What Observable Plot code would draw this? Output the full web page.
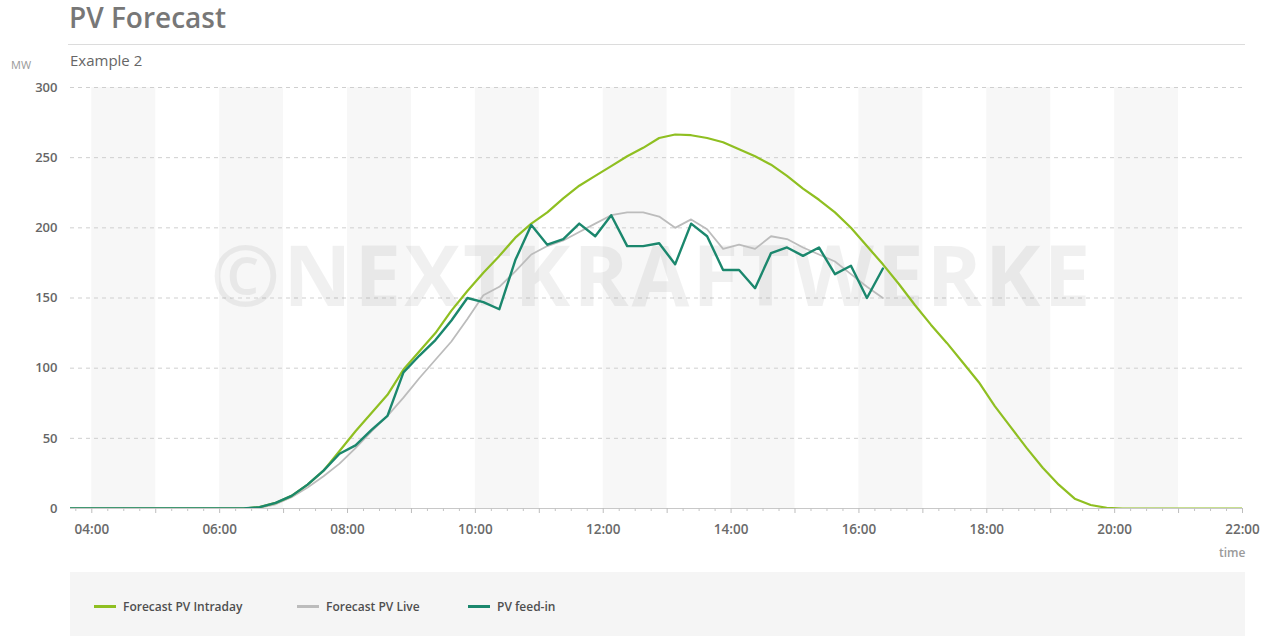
<!DOCTYPE html>
<html>
<head>
<meta charset="utf-8">
<script src="https://cdn.jsdelivr.net/npm/d3@7"></script>
<script src="https://cdn.jsdelivr.net/npm/@observablehq/plot@0.6"></script>
<style>
  html, body { margin: 0; padding: 0; background: #fff; }
  body { width: 1268px; height: 636px; overflow: hidden; position: relative; font-family: "Open Sans", sans-serif; }
  #header { position: relative; height: 70px; }
  #title { position: absolute; left: 69px; top: -1px; font-size: 28px; font-weight: 600; color: #777; line-height: 36px; white-space: nowrap; }
  #rule { position: absolute; left: 68px; top: 44px; width: 1177px; height: 1px; background: #dcdcdc; }
  #sub { position: absolute; left: 70px; top: 50px; font-size: 15px; color: #666; line-height: 20px; white-space: nowrap; }
  #unit { position: absolute; left: 11px; top: 57px; font-size: 11px; color: #999; line-height: 15px; }
  #chart { position: absolute; left: 0; top: 70px; }
  #legend { position: absolute; left: 70px; top: 572px; width: 1175px; height: 64px; background: #f5f5f5; }
  .item { position: absolute; top: 27px; font-size: 12px; font-weight: 600; color: #4f4f4f; line-height: 16px; white-space: nowrap; }
  .sw { display: inline-block; width: 22px; height: 3px; vertical-align: middle; margin-right: 7px; position: relative; top: -1px; }
</style>
</head>
<body>
<div id="header">
  <div id="title">PV Forecast</div>
  <div id="rule"></div>
  <div id="unit">MW</div>
  <div id="sub">Example 2</div>
</div>
<div id="chart"></div>
<div id="legend"></div>
<script>
// ---- data (15-minute samples, first sample at 03:37:30) ----
const firstSample = "03:37:30";
const stepMinutes = 15;

const intraday = [0,0,0,0,0,0,0,0,0,0,0,0,
  1,4,9,17,27,41,55,68,81,99,112,125,141,155,168,180,193,203,211,221,230,237,
  244,251,257,264,266.5,266,264,261,256,251,245,237,228,220,211,200,187,174,
  160,145,131,118,104,90,73,58,43,29,17,7,2.5,0.5,
  0,0,0,0,0,0,0,0,0];

const live = [0,0,0,0,0,0,0,0,0,0,0,0,
  0.5,3,8,15,23,32,43,55,66,79,93,106,119,135,152,158,169,181,187,191,197,203,
  209,211,211,208,200,206,199,185,188,185,194,192,186,181,176,167,158,150];

const feedIn = [0,0,0,0,0,0,0,0,0,0,0,0,
  1,4,9,17,27,39,45,56,66,97,109,120,134,150,147,142,177,202,188,192,203,194,
  209,187,187,189,174,203,194,170,170,157,182,186,180,186,167,173,150,171];

const seriesNames = ["Forecast PV Intraday", "Forecast PV Live", "PV feed-in"];
const seriesColors = ["#8fbf21", "#bcbcbc", "#1b876d"];
const xTickLabels = ["04:00","06:00","08:00","10:00","12:00","14:00","16:00","18:00","20:00","22:00"];
const yTicks = [0, 50, 100, 150, 200, 250, 300];
const xDomain = ["03:40", "22:00"];
const watermark = "©NEXTKRAFTWERKE";

// ---- helpers ----
const at = s => { const [h, m, sec] = s.split(":").map(Number); return new Date(2020, 0, 1, h, m, sec || 0); };
const t0 = at(firstSample);
const timeOf = i => new Date(t0.getTime() + i * stepMinutes * 60000);
const rowsOf = (vals, name) => vals.map((v, i) => ({t: timeOf(i), v, s: name}));

const rowsIntraday = rowsOf(intraday, seriesNames[0]);
const rowsLive = rowsOf(live, seriesNames[1]);
const rowsFeed = rowsOf(feedIn, seriesNames[2]);

const labelTicks = xTickLabels.map(at);
const hourTicks = d3.timeHour.range(at("04:00"), new Date(at("22:00").getTime() + 1));
const minorTicks = d3.timeMinute.every(15).range(at("03:45"), new Date(at("22:00").getTime() + 1))
  .filter(d => d.getMinutes() !== 0);
const bands = labelTicks.slice(0, -1).map(d => ({x1: d, x2: d3.timeHour.offset(d, 1)}));
const fmt = d3.timeFormat("%H:%M");

const chart = Plot.plot({
  width: 1268,
  height: 500,
  marginTop: 17,
  marginBottom: 62,
  marginLeft: 70,
  marginRight: 26,
  x: {type: "time", domain: xDomain.map(at), label: null},
  y: {domain: [yTicks[0], yTicks[yTicks.length - 1]], label: null},
  style: {fontFamily: "'Open Sans', sans-serif", background: "transparent", color: "#666", overflow: "visible"},
  marks: [
    Plot.rect(bands, {x1: "x1", x2: "x2", y1: yTicks[0], y2: yTicks[yTicks.length - 1], fill: "#f7f7f7"}),
    Plot.gridY(yTicks.slice(1), {stroke: "#cfcfcf", strokeOpacity: 1, strokeDasharray: "4,4"}),
    Plot.text([watermark], {text: d => d, frameAnchor: "middle", dx: -6, dy: -19, fontSize: 84, fontWeight: 700, fill: "#000", fillOpacity: 0.06, lineAnchor: "middle"}),
    Plot.ruleY([0], {stroke: "#c8c8c8"}),
    Plot.axisX({ticks: minorTicks, tickSize: 3, tickFormat: () => "", stroke: "#c4c4c4", label: null}),
    Plot.axisX({ticks: hourTicks, tickSize: 5, tickFormat: () => "", stroke: "#bdbdbd", label: null}),
    Plot.axisX({ticks: labelTicks, tickSize: 0, tickPadding: 16, tickFormat: fmt, fontSize: 13.5, fontWeight: 600, fill: "#6a6a6a", label: null}),
    Plot.axisY({ticks: yTicks, tickSize: 0, tickPadding: 13, fontSize: 13, fontWeight: 600, fill: "#666", label: null}),
    Plot.text(["time"], {text: d => d, frameAnchor: "bottom-right", dx: 3, dy: 45, textAnchor: "end", lineAnchor: "middle", fontSize: 12, fontWeight: 600, fill: "#9a9a9a"}),
    Plot.line(rowsLive, {x: "t", y: "v", stroke: seriesColors[1], strokeWidth: 1.8, clip: true}),
    Plot.line(rowsIntraday, {x: "t", y: "v", stroke: seriesColors[0], strokeWidth: 2.2, clip: true}),
    Plot.line(rowsFeed, {x: "t", y: "v", stroke: seriesColors[2], strokeWidth: 2.4, clip: true})
  ]
});
document.getElementById("chart").appendChild(chart);

// stretch the watermark across its width in the reference
chart.querySelectorAll("text").forEach(el => {
  if (el.textContent === watermark) {
    el.setAttribute("textLength", 880);
    el.setAttribute("lengthAdjust", "spacing");
  }
});

// legend
const legendLefts = [24, 227, 398];
const legend = document.getElementById("legend");
seriesNames.forEach((name, i) => {
  const item = document.createElement("div");
  item.className = "item";
  item.style.left = legendLefts[i] + "px";
  const sw = document.createElement("span");
  sw.className = "sw";
  sw.style.background = seriesColors[i];
  item.appendChild(sw);
  item.appendChild(document.createTextNode(name));
  legend.appendChild(item);
});
</script>
</body>
</html>
